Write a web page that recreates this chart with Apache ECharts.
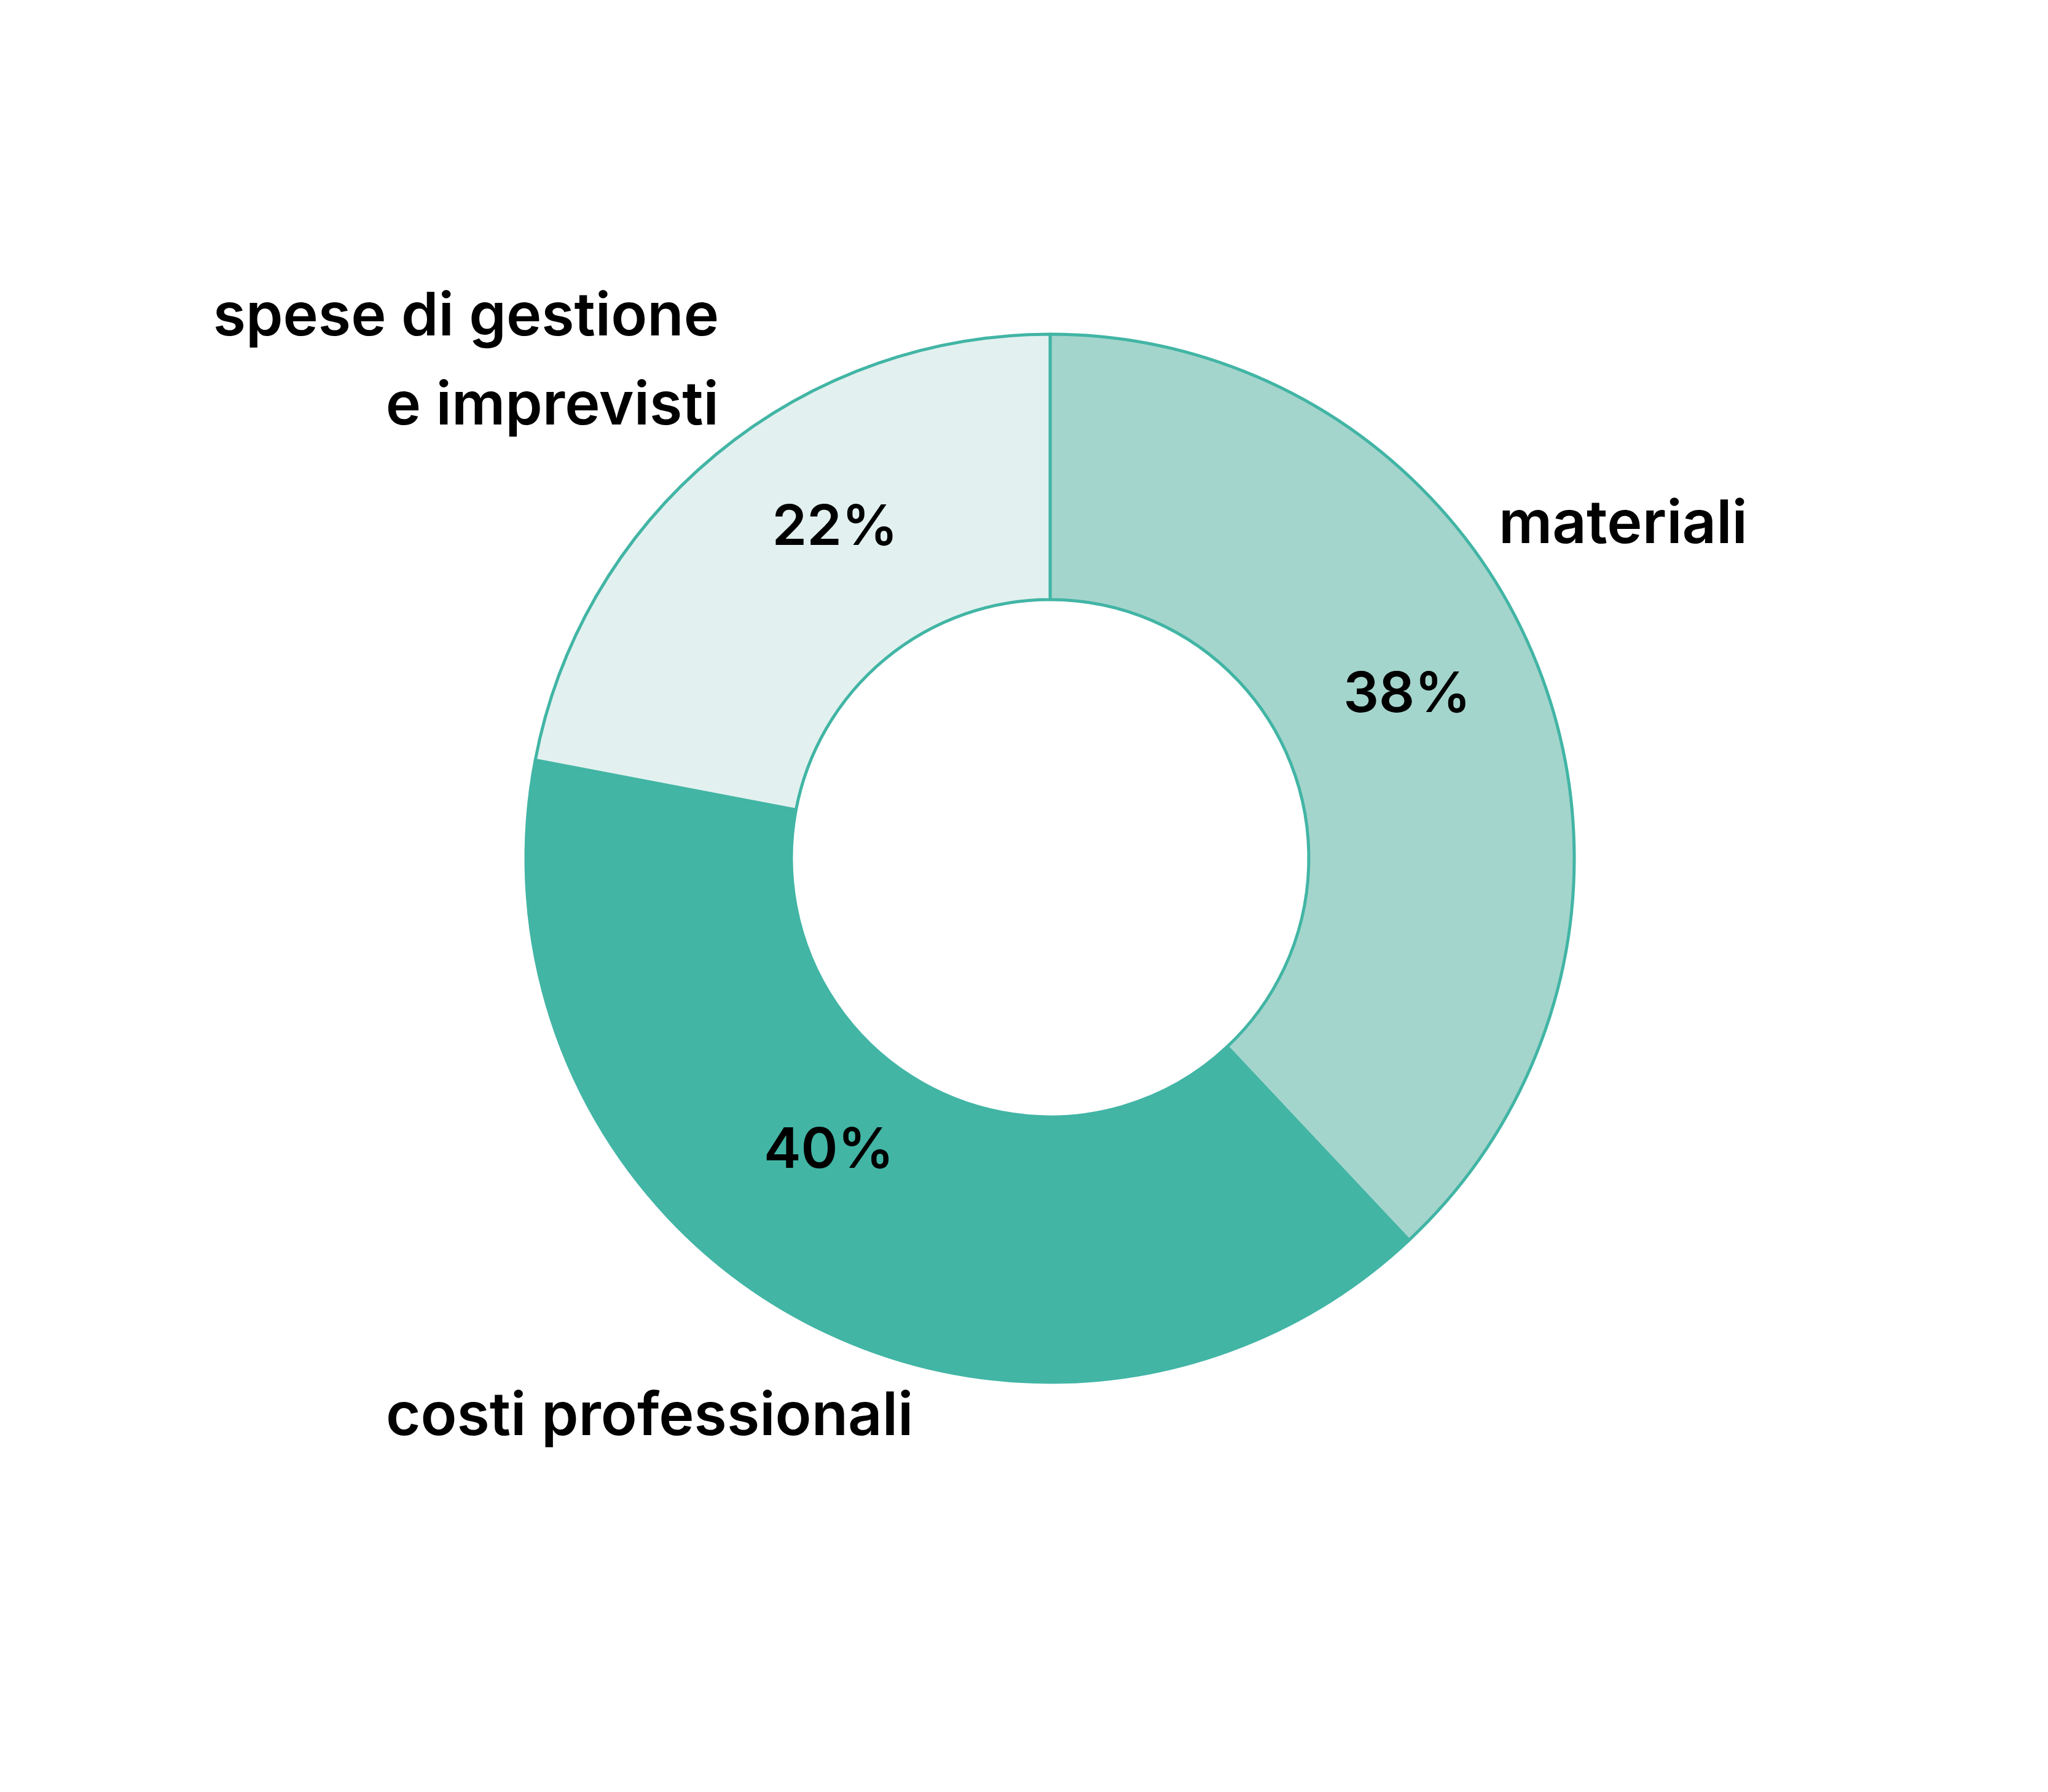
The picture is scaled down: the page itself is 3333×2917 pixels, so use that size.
<!DOCTYPE html>
<html>
<head>
<meta charset="utf-8">
<script src="https://cdn.jsdelivr.net/npm/echarts@6/dist/echarts.min.js"></script>
<style>
html,body{margin:0;padding:0;background:#fff;}
#chart{width:3333px;height:2917px;}
</style>
</head>
<body>
<div id="chart"></div>
<script>
// Data
var categories = ['materiali', 'costi professionali', 'spese di gestione\ne imprevisti'];
var values = [38, 40, 22];
var colors = ['#a4d5cc', '#42b5a5', '#e2f1ef'];

// Label placement (layout only)
var pctLabelPos = [[2290, 1132, 'center'], [1349, 1874, 'center'], [1359, 860, 'center']];
var nameLabelPos = [[2439, 855, 'left'], [628, 2307, 'left'], [1170, 589, 'right']];

var FONT = 'Inter';

var chart = echarts.init(document.getElementById('chart'), null, {renderer: 'canvas'});

var dataA = categories.map(function (c, i) {
  return {name: c, value: values[i], itemStyle: {color: colors[i]}};
});
var dataB = categories.map(function (c, i) {
  return {name: c, value: values[i]};
});

var center = [1709, 1397];
var radius = [421, 853];

chart.setOption({
  animation: false,
  backgroundColor: '#ffffff',
  series: [
    {
      type: 'pie',
      center: center,
      radius: radius,
      startAngle: 90,
      clockwise: true,
      avoidLabelOverlap: false,
      itemStyle: {borderColor: '#42b5a5', borderWidth: 5},
      emphasis: {disabled: true},
      label: {
        show: true,
        position: 'inside',
        formatter: '{d}%',
        color: '#000',
        fontFamily: FONT,
        fontWeight: 600,
        fontSize: 91
      },
      labelLine: {show: false},
      labelLayout: function (p) {
        var q = pctLabelPos[p.dataIndex];
        return {x: q[0], y: q[1], align: q[2], verticalAlign: 'middle'};
      },
      data: dataA
    },
    {
      type: 'pie',
      center: center,
      radius: radius,
      startAngle: 90,
      clockwise: true,
      silent: true,
      avoidLabelOverlap: false,
      itemStyle: {color: 'rgba(0,0,0,0)', borderWidth: 0},
      emphasis: {disabled: true},
      label: {
        show: true,
        position: 'outside',
        formatter: '{b}',
        color: '#000',
        fontFamily: FONT,
        fontWeight: 600,
        fontSize: 97,
        lineHeight: 145
      },
      labelLine: {show: false},
      labelLayout: function (p) {
        var q = nameLabelPos[p.dataIndex];
        return {x: q[0], y: q[1], align: q[2], verticalAlign: 'middle'};
      },
      data: dataB
    }
  ]
});
</script>
</body>
</html>
